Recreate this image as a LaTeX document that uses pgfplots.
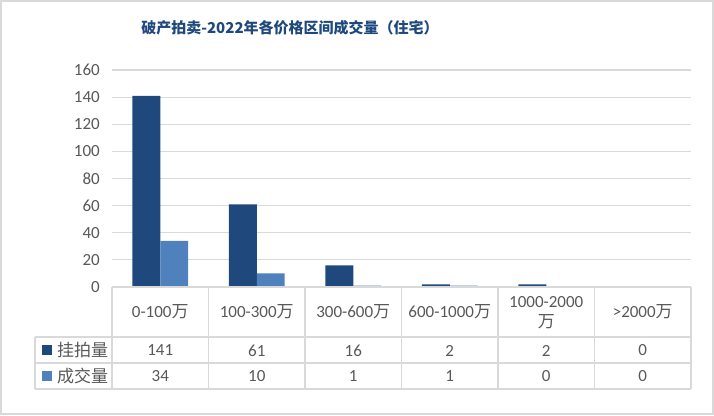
\documentclass[border=0pt]{standalone}
\usepackage{pgfplots}
\pgfplotsset{compat=1.18}
\usepackage{pgfplotstable}
\usepackage{fontspec}
\setmainfont{Carlito}
\newfontfamily\cjk{Noto Sans CJK SC}
\definecolor{dk}{RGB}{31,73,125}
\definecolor{lt}{RGB}{79,129,189}
\definecolor{gridc}{RGB}{217,217,217}
\definecolor{txt}{RGB}{89,89,89}
\definecolor{ttl}{RGB}{31,73,125}
\pgfplotstableread{
x gua cheng
0 141 34
1 61 10
2 16 1
3 2 1
4 2 0
5 0 0
}\datatab
\begin{document}
\begin{tikzpicture}[x=1pt,y=1pt]
\useasboundingbox (0,0) rectangle (714,415);
\fill[white] (0,0) rectangle (714,415);
\draw[gridc, line width=2] (1,1) rectangle (713,414);
\node[text=ttl, font=\cjk\bfseries\fontsize{15}{15}\selectfont] at (290,387) {破产拍卖-2022年各价格区间成交量（住宅）};
\begin{axis}[at={(112pt,128pt)}, anchor=south west, scale only axis,
  width=579pt, height=217pt,
  xmin=-0.5, xmax=5.5, ymin=0, ymax=160,
  ytick={0,20,...,160}, xtick=\empty,
  axis line style={draw=none},
  ymajorgrids, grid style={gridc, line width=1.2pt},
  major tick length=0pt,
  /pgf/number format/assume math mode=true,
  yticklabel style={font=\fontsize{17}{17}\selectfont, text=txt, inner sep=0pt, xshift=-12pt},
  ybar=0pt, bar width=0.29,
  clip=false]
\addplot[fill=dk, draw=none] table[x=x, y=gua] {\datatab};
\addplot[fill=lt, draw=none] table[x=x, y=cheng] {\datatab};
\end{axis}
% data table
\begin{scope}[gridc, line width=1.3]
\draw (112,128) -- (691,128);
\draw (35,78) -- (691,78);
\draw (35,52) -- (691,52);
\draw (35,26) -- (691,26);
\draw (35,26) -- (35,78);
\foreach \xx in {112,208.5,305,401.5,498,594.5,691} \draw (\xx,26) -- (\xx,128);
\end{scope}
\begin{scope}[text=txt, font=\fontsize{17}{17}\selectfont]
\node at (160.25,103) {0-100{\cjk 万}};
\node at (256.75,103) {100-300{\cjk 万}};
\node at (353.25,103) {300-600{\cjk 万}};
\node at (449.75,103) {600-1000{\cjk 万}};
\node at (546.25,113) {1000-2000};
\node at (546.25,93) {\cjk 万};
\node at (642.75,103) {>2000{\cjk 万}};
\foreach \v [count=\i from 0] in {141,61,16,2,2,0}
  \node at (160.25+96.5*\i,64.5) {\v};
\foreach \v [count=\i from 0] in {34,10,1,1,0,0}
  \node at (160.25+96.5*\i,38.5) {\v};
\node[anchor=west, inner sep=0pt] at (57,65) {\cjk 挂拍量};
\node[anchor=west, inner sep=0pt] at (57,39) {\cjk 成交量};
\end{scope}
\fill[dk] (42,60) rectangle (52,70);
\fill[lt] (42,34) rectangle (52,44);
\end{tikzpicture}
\end{document}
